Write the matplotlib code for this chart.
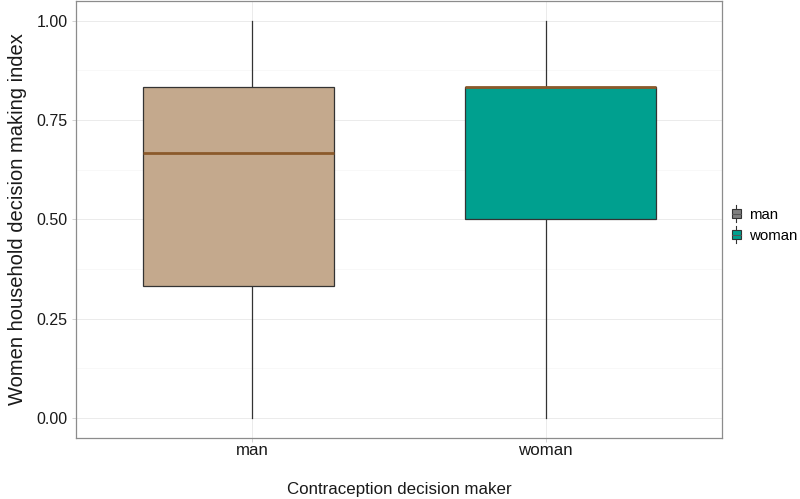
import matplotlib
matplotlib.use('Agg')
import matplotlib.pyplot as plt
from matplotlib.patches import Rectangle
from matplotlib.lines import Line2D
from matplotlib.legend_handler import HandlerBase
from matplotlib.ticker import MultipleLocator

plt.rcParams['font.family'] = ['Liberation Sans', 'DejaVu Sans']

categories = ['man', 'woman']
box_q1 = [0.3333, 0.5]
box_median = [0.6667, 0.8333]
box_q3 = [0.8333, 0.8333]
whisker_low = [0.0, 0.0]
whisker_high = [1.0, 1.0]
box_shift = [-0.047, 0.049]
fill_colors = ['#C4A98D', '#00A08F']
legend_colors = ['#7F7F7F', '#00A08F']
median_color = '#8B5A2B'
edge_color = '#333333'


class BoxKeyHandler(HandlerBase):
    def __init__(self, color):
        super().__init__()
        self.color = color

    def create_artists(self, legend, orig_handle, xdescent, ydescent, width, height, fontsize, trans):
        cx = width / 2 - xdescent
        bw = width * 0.75
        r = Rectangle((cx - bw / 2, -ydescent + height * 0.2), bw, height * 0.6,
                      facecolor=self.color, edgecolor=edge_color, lw=0.8, transform=trans)
        w = Line2D([cx, cx], [-ydescent - height * 0.05, -ydescent + height * 1.05],
                   color=edge_color, lw=0.8, transform=trans)
        m = Line2D([cx - bw / 2, cx + bw / 2], [-ydescent + height * 0.5] * 2,
                   color='#555555', lw=0.8, transform=trans)
        return [w, r, m]


fig = plt.figure(figsize=(8, 4.99), dpi=100)
ax = fig.add_axes([0.095, 0.1229, 0.8075, 0.8751])

positions = list(range(1, len(categories) + 1))
box_width = 0.65
for i, pos in enumerate(positions):
    ax.plot([pos, pos], [whisker_low[i], box_q1[i]], color=edge_color, lw=0.9, zorder=2)
    ax.plot([pos, pos], [box_q3[i], whisker_high[i]], color=edge_color, lw=0.9, zorder=2)
    c = pos + box_shift[i]
    ax.add_patch(Rectangle((c - box_width / 2, box_q1[i]), box_width, box_q3[i] - box_q1[i],
                           facecolor=fill_colors[i], edgecolor=edge_color, lw=0.9, zorder=3))
    ax.plot([c - box_width / 2, c + box_width / 2], [box_median[i]] * 2,
            color=median_color, lw=2.0, zorder=4, solid_capstyle='butt')

ax.set_xlim(0.4, 2.6)
ax.set_ylim(-0.05, 1.05)
ax.set_xticks(positions)
ax.set_xticklabels(categories)
ax.yaxis.set_major_locator(MultipleLocator(0.25))
ax.yaxis.set_minor_locator(MultipleLocator(0.125))
ax.set_yticks([0, 0.25, 0.5, 0.75, 1.0])
ax.set_yticklabels(['0.00', '0.25', '0.50', '0.75', '1.00'])
ax.grid(True, which='major', color='#EBEBEB', lw=0.7, zorder=0)
ax.grid(True, which='minor', axis='y', color='#F5F5F5', lw=0.5, zorder=0)
ax.set_axisbelow(True)
for s in ax.spines.values():
    s.set_color('#8C8C8C')
    s.set_linewidth(0.9)
ax.tick_params(axis='both', which='major', length=3, width=0.6, color='#CCCCCC',
               labelcolor='#1A1A1A', pad=3)
ax.tick_params(axis='y', labelsize=11.5)
ax.tick_params(axis='x', labelsize=12.2, pad=1)
ax.tick_params(axis='y', which='minor', length=0)
ax.set_xlabel('Contraception decision maker', fontsize=12.2, labelpad=17, color='#1A1A1A')
ax.set_ylabel('Women household decision making index', fontsize=14.5, labelpad=7, color='#1A1A1A')

handles = [Rectangle((0, 0), 1, 1) for _ in categories]
leg = fig.legend(handles, categories, loc='center left', bbox_to_anchor=(0.905, 0.55),
                 frameon=False, fontsize=10.8, handlelength=0.85, handleheight=1.2,
                 handletextpad=0.45, labelspacing=0.35, borderpad=0.2, borderaxespad=0.2,
                 handler_map={h: BoxKeyHandler(col) for h, col in zip(handles, legend_colors)})

fig.savefig('out.png', dpi=100, facecolor='white')
